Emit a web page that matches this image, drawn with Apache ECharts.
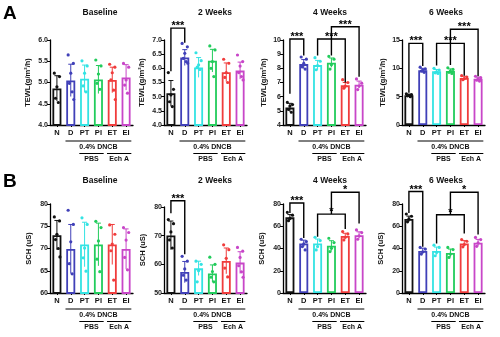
<!DOCTYPE html>
<html><head><meta charset="utf-8">
<script src="https://cdn.jsdelivr.net/npm/echarts@6.0.0/dist/echarts.min.js"></script>
<style>html,body{margin:0;padding:0;background:#fff}#c{width:500px;height:337px}</style>
</head><body><div id="c"></div>
<script>
// ---------- data ----------
const categories = ['N','D','PT','PI','ET','EI'];
const timeTitles = ['Baseline','2 Weeks','4 Weeks','6 Weeks'];
const groupLabels = ['0.4% DNCB','PBS','Ech A'];
const panelLetters = ['A','B'];
const tewlName = 'TEWL(g/m\u00B2/h)';
const schName = 'SCH (uS)';

// TEWL (g/m2/h)
const tewlBaseMean = [4.86, 5.05, 5.09, 5.07, 5.06, 5.12];
const tewlBaseSd   = [0.3, 0.38, 0.32, 0.33, 0.3, 0.3];
const tewlBasePts  = [[5.22,5.14,4.9,4.63,4.53],[5.65,5.45,5.22,4.98,4.78,4.6],[5.51,5.39,5.22,4.92,4.78],[5.53,5.39,5.2,4.98,4.84],[5.43,5.36,5.23,5.06,4.82,4.6],[5.45,5.36,5.06,4.94,4.75]];
const tewl2wMean = [5.12, 6.38, 6.03, 6.27, 5.86, 5.92];
const tewl2wSd   = [0.45, 0.28, 0.35, 0.4, 0.33, 0.3];
const tewl2wPts  = [[5.85,5.26,5.06,4.82,4.65],[6.88,6.76,6.53,6.35,6.24,6.18],[6.55,6.27,6.12,6.04,5.96],[6.79,6.65,6.24,6.0,5.71],[6.32,6.18,5.85,5.68,5.5],[6.47,6.24,6.08,5.85,5.71,5.59]];
const tewl4wMean = [5.23, 8.3, 8.23, 8.4, 6.8, 6.85];
const tewl4wSd   = [0.3, 0.32, 0.33, 0.33, 0.2, 0.25];
const tewl4wPts  = [[5.6,5.44,5.34,5.1,4.9],[8.8,8.65,8.35,8.1,7.95],[8.75,8.5,8.2,7.9],[8.85,8.65,8.25,7.95],[7.2,7.0,6.75,6.6],[7.25,6.95,6.75,6.5]];
const tewl6wMean = [5.25, 9.65, 9.5, 9.55, 8.3, 8.15];
const tewl6wSd   = [0.2, 0.35, 0.3, 0.35, 0.3, 0.3];
const tewl6wPts  = [[5.5,5.35,5.25,5.15,5.0],[10.2,9.9,9.7,9.5,9.3],[10.0,9.7,9.4,9.2,9.1],[10.1,9.8,9.5,9.3,9.1],[8.7,8.45,8.2,8.0],[8.6,8.35,8.15,7.9,7.75]];

// SCH (uS)
const schBaseMean = [73.0, 69.9, 70.9, 70.9, 70.9, 69.9];
const schBaseSd   = [3.3, 5.5, 5.0, 4.8, 4.5, 4.5];
const schBasePts  = [[77.1,76.2,73.2,72.0,70.0,68.1],[78.6,75.4,71.5,66.6,64.3],[76.9,75.4,70.1,67.9,64.9],[76.1,74.7,71.7,67.6,64.8],[75.3,73.2,71.0,69.5,62.9],[74.7,73.6,71.9,68.0,65.2]];
const sch2wMean = [70.1, 57.3, 58.6, 56.8, 61.2, 60.6];
const sch2wSd   = [5.0, 3.7, 2.5, 3.0, 4.5, 3.8];
const sch2wPts  = [[75.6,74.2,71.3,68.5,65.7],[62.8,61.1,58.4,56.2,54.5],[61.1,60.0,57.8,53.9],[62.5,60.0,57.5,55.5,53.9],[66.8,65.1,62.1,58.7,55.6],[65.9,64.6,62.4,59.5,57.4,55.5]];
const sch4wMean = [68.0, 44.5, 44.5, 42.5, 51.2, 52.0];
const sch4wSd   = [2.5, 3.0, 4.0, 4.5, 2.5, 3.0];
const sch4wPts  = [[72.5,70,67,65],[48.3,46.2,44.1,41.7,38.7],[50.1,47.1,41.7,38.7],[49.2,45.3,40.2,37.2],[55.2,53.1,50.1,47.7],[56.7,54.3,51.3,48.3]];
const sch6wMean = [66.6, 37.8, 37.8, 36.0, 44.6, 45.2];
const sch6wSd   = [2.5, 2.5, 3.5, 3.5, 2.5, 3.0];
const sch6wPts  = [[71,69,66.6,64],[41,39.5,37,35],[43,41,36.5,33.5],[41,39,35,32],[48,46.5,43.5,41.5],[50,48,45,42]];

// significance brackets: [fromCat, toCat, lineValue, leftEndValue, rightEndValue, label]
const tewl2wSig = [[0,1,7.42,5.9,6.9,'***']];
const tewl4wSig = [[0,1,10.07,6.2,8.9,'***'],[2,4,10.07,8.9,7.0,'***'],[3,5,10.94,8.9,7.4,'***']];
const tewl6wSig = [[0,1,14.4,5.7,10.4,'***'],[2,4,14.4,10.5,8.7,'***'],[3,5,16.9,10.6,8.6,'***']];
const sch2wSig  = [[0,1,82.2,77.8,63.5,'***']];
const sch4wSig  = [[0,1,80.9,72,49.5,'***'],[2,4,70.9,50.5,57.5,'*'],[3,5,90.6,70.9,62.5,'*']];
const sch6wSig  = [[0,1,91.2,72,41.5,'***'],[2,4,70.3,44.5,53.5,'*'],[3,5,90.6,70.3,52.5,'*']];

// y scales [min, max, interval]
const tewlScales = [[4,6,0.5],[4,7,0.5],[4,10,1],[0,15,5]];
const schScales  = [[60,80,5],[50,80,10],[0,80,20],[0,80,20]];

// ---------- styling / layout ----------
const colors = ['#111111','#4040b8','#33e3e3','#22cc5c','#f03c3c','#c846c8'];
const FONT = '"Liberation Sans", Arial, sans-serif';
const colLeft = [50, 164, 283, 402];
const gridW = 83;
const rowTop = [40, 204];
const rowH = [85, 89];
const titleX = [100, 215, 330, 446];
const titleY = [13, 181];

const panels = [
  {row:0,col:0,mean:tewlBaseMean,sd:tewlBaseSd,pts:tewlBasePts,sig:[],sc:tewlScales[0],name:tewlName,dec:1,gap:18},
  {row:0,col:1,mean:tewl2wMean,sd:tewl2wSd,pts:tewl2wPts,sig:tewl2wSig,sc:tewlScales[1],name:tewlName,dec:1,gap:18},
  {row:0,col:2,mean:tewl4wMean,sd:tewl4wSd,pts:tewl4wPts,sig:tewl4wSig,sc:tewlScales[2],name:tewlName,dec:0,gap:15},
  {row:0,col:3,mean:tewl6wMean,sd:tewl6wSd,pts:tewl6wPts,sig:tewl6wSig,sc:tewlScales[3],name:tewlName,dec:0,gap:15},
  {row:1,col:0,mean:schBaseMean,sd:schBaseSd,pts:schBasePts,sig:[],sc:schScales[0],name:schName,dec:0,gap:17},
  {row:1,col:1,mean:sch2wMean,sd:sch2wSd,pts:sch2wPts,sig:sch2wSig,sc:schScales[1],name:schName,dec:0,gap:17,top:207,h:86},
  {row:1,col:2,mean:sch4wMean,sd:sch4wSd,pts:sch4wPts,sig:sch4wSig,sc:schScales[2],name:schName,dec:0,gap:17},
  {row:1,col:3,mean:sch6wMean,sd:sch6wSd,pts:sch6wPts,sig:sch6wSig,sc:schScales[3],name:schName,dec:0,gap:17}
];

const jitter = [-2.6, 2.6, 0, -1.4, 1.4, 3];

const option = {animation:false, grid:[], xAxis:[], yAxis:[], series:[], graphic:[]};

panels.forEach((p,i)=>{
  const top = p.top || rowTop[p.row];
  const h = p.h || rowH[p.row];
  option.grid.push({left: colLeft[p.col], top: top, width: gridW, height: h});
  option.xAxis.push({
    type:'category', gridIndex:i, data:categories,
    axisLine:{lineStyle:{color:'#000', width:1.3}},
    axisTick:{show:true, alignWithLabel:true, length:2, lineStyle:{color:'#000'}},
    axisLabel:{interval:0, fontSize:7.5, fontWeight:'bold', color:'#111', margin:4, fontFamily:FONT}
  });
  option.yAxis.push({
    type:'value', gridIndex:i, min:p.sc[0], max:p.sc[1], interval:p.sc[2],
    axisLine:{show:true, lineStyle:{color:'#000', width:1.3}},
    axisTick:{show:true, length:3, lineStyle:{color:'#000'}},
    splitLine:{show:false},
    axisLabel:{fontSize:7, fontWeight:'bold', color:'#222', margin:2, fontFamily:FONT,
      formatter: v => v.toFixed(p.dec)},
    name:p.name, nameLocation:'middle', nameGap:p.gap,
    nameTextStyle:{fontSize:7.5, fontWeight:'bold', color:'#111', fontFamily:FONT}
  });
  // bars
  option.series.push({
    type:'bar', xAxisIndex:i, yAxisIndex:i, barWidth:9, silent:true,
    data:p.mean.map((v,k)=>({value:v, itemStyle:{color:'#ffffff', borderColor:colors[k], borderWidth:1.8}}))
  });
  // error bars
  option.series.push({
    type:'custom', xAxisIndex:i, yAxisIndex:i, silent:true, z:3,
    data:p.mean.map((v,k)=>[k, v, p.sd[k]]),
    encode:{x:0, y:1},
    renderItem:(params, api)=>{
      const k = api.value(0), m = api.value(1), s = api.value(2);
      const a = api.coord([k, m + s]), b = api.coord([k, m - s]);
      const st = {stroke:colors[k], lineWidth:1};
      return {type:'group', children:[
        {type:'line', shape:{x1:a[0], y1:a[1], x2:b[0], y2:b[1]}, style:st},
        {type:'line', shape:{x1:a[0]-2.5, y1:a[1], x2:a[0]+2.5, y2:a[1]}, style:st}
      ]};
    }
  });
  // points
  const ptData = [];
  p.pts.forEach((arr,k)=>arr.forEach((v,j)=>ptData.push([k, v, j])));
  option.series.push({
    type:'custom', xAxisIndex:i, yAxisIndex:i, silent:true, z:4,
    data:ptData, encode:{x:0, y:1},
    renderItem:(params, api)=>{
      const k = api.value(0), c = api.coord([k, api.value(1)]);
      return {type:'circle', shape:{cx:c[0] + jitter[api.value(2) % jitter.length], cy:c[1], r:1.6},
        style:{fill:colors[k]}};
    }
  });
  // significance brackets
  if (p.sig.length) {
    option.series.push({
      type:'custom', xAxisIndex:i, yAxisIndex:i, silent:true, z:5, clip:false,
      data:p.sig.map(s=>[s[0], s[1], s[2], s[3], s[4]]),
      encode:{x:0, y:2},
      renderItem:(params, api)=>{
        const s = p.sig[params.dataIndex];
        const l = api.coord([s[0], s[2]]), r = api.coord([s[1], s[2]]);
        const lb = api.coord([s[0], s[3]]), rb = api.coord([s[1], s[4]]);
        return {type:'group', children:[
          {type:'polyline', shape:{points:[[l[0], lb[1]],[l[0], l[1]],[r[0], r[1]],[r[0], rb[1]]]},
            style:{stroke:'#000', lineWidth:1.4, fill:null}},
          {type:'text', x:(l[0]+r[0])/2, y:l[1]+3.5,
            style:{text:s[5], fill:'#000', font:'bold 11px '+FONT, textAlign:'center', textVerticalAlign:'bottom'}}
        ]};
      }
    });
  }
  // group labels under the x axis
  const yMin = p.sc[0];
  option.series.push({
    type:'custom', xAxisIndex:i, yAxisIndex:i, silent:true, clip:false,
    data:[[0, yMin]], encode:{x:0, y:1},
    renderItem:(params, api)=>{
      const cs = params.coordSys;
      const bw = api.size([1,0])[0];
      const cx = k => api.coord([k, yMin])[0];
      const yb = cs.y + cs.height;
      const half = bw*0.38;
      const ls = {stroke:'#000', lineWidth:1};
      const ts = (t,x,y)=>({type:'text', x:x, y:y, style:{text:t, fill:'#111', font:'bold 7px '+FONT, textAlign:'center', textVerticalAlign:'middle'}});
      return {type:'group', children:[
        {type:'line', shape:{x1:cx(1)-half, y1:yb+16, x2:cx(5)+half, y2:yb+16}, style:ls},
        ts(groupLabels[0], (cx(1)+cx(5))/2, yb+22.5),
        {type:'line', shape:{x1:cx(2)-half, y1:yb+28.5, x2:cx(3)+half, y2:yb+28.5}, style:ls},
        ts(groupLabels[1], (cx(2)+cx(3))/2, yb+34.5),
        {type:'line', shape:{x1:cx(4)-half, y1:yb+28.5, x2:cx(5)+half, y2:yb+28.5}, style:ls},
        ts(groupLabels[2], (cx(4)+cx(5))/2, yb+34.5)
      ]};
    }
  });
});

// titles and panel letters
[0,1].forEach(r=>{
  timeTitles.forEach((t,c)=>{
    option.graphic.push({type:'text', x:titleX[c], y:titleY[r],
      style:{text:t, fill:'#111', font:'bold 8.5px '+FONT, textAlign:'center', textVerticalAlign:'middle'}});
  });
  option.graphic.push({type:'text', x:3, y:titleY[r]+1,
    style:{text:panelLetters[r], fill:'#000', font:'bold 19px '+FONT, textAlign:'left', textVerticalAlign:'middle'}});
});

const chart = echarts.init(document.getElementById('c'), null, {renderer:'canvas'});
chart.setOption(option);
</script></body></html>
